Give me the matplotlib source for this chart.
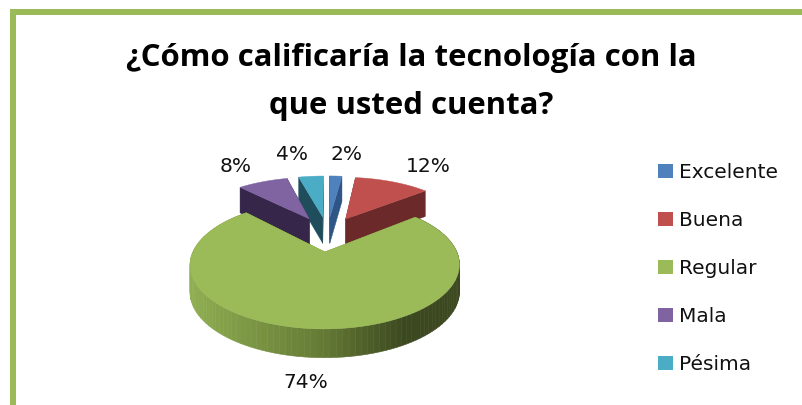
#!/usr/bin/env python3
# -*- coding: utf-8 -*-
import numpy as np
import matplotlib
matplotlib.use('Agg')
import matplotlib.pyplot as plt
from matplotlib.patches import Polygon, Rectangle, Patch
from matplotlib.colors import to_rgb

categories = ['Excelente', 'Buena', 'Regular', 'Mala', 'Pésima']
values = [2, 12, 74, 8, 4]
top_colors = ['#4F81BD', '#C0504D', '#9BBB59', '#8064A2', '#4BACC6']
wall_colors = ['#2F5587', '#6B2A29', '#6F8A3C', '#35264A', '#1F4D5C']
label_pos = [(346, 155), (428, 166), (306, 382), (236, 166), (292, 155)]

W, H = 802, 405
CX, CY = 327.5, 252     # punta de la rebanada verde
RX, RY = 132, 61.6
PERSP = 0.2             # perspectiva
EXPLODE = 0.32

fig = plt.figure(figsize=(W / 100, H / 100), dpi=100, facecolor='white')
ax = fig.add_axes([0, 0, 1, 1])
ax.set_xlim(0, W); ax.set_ylim(H, 0); ax.axis('off')

# marco verde
ax.add_patch(Rectangle((10, 9), W - 10, 6, fc='#9BBB59', ec='none'))
ax.add_patch(Rectangle((10, 9), 6, H - 9, fc='#9BBB59', ec='none'))

def project(u, v, low=False):
    s = 1 / (1 + PERSP * v)
    y = CY - RY * v * s
    if low:
        y = y + 20 + 7 * s
    return np.column_stack([CX + RX * u * s, y])

def ang_xy(a):
    return np.sin(np.radians(a)), np.cos(np.radians(a))

pct = np.array(values) / sum(values)
starts = np.concatenate([[0], np.cumsum(pct)[:-1]]) * 360
ends = np.cumsum(pct) * 360
# la verde va al final porque tapa a las demas
order = [4, 3, 0, 1, 2]
for i in order:
    a0, a1 = starts[i], ends[i]
    mid = (a0 + a1) / 2
    mx, my = ang_xy(mid)
    u0 = EXPLODE * mx
    v0 = EXPLODE * my + EXPLODE
    th = np.linspace(a0, a1, 120)
    eu, ev = ang_xy(th)
    eu = u0 + eu; ev = v0 + ev
    # paredes radiales
    for k in (0, -1):
        us = np.array([u0, eu[k]]); vs = np.array([v0, ev[k]])
        pts = np.vstack([project(us, vs), project(us, vs, True)[::-1]])
        ax.add_patch(Polygon(pts, fc=wall_colors[i], ec=wall_colors[i], lw=0.3))
    # borde exterior
    if i == 2:
        top = project(eu, ev); low = project(eu, ev, True)
        c_left = np.array(to_rgb('#8FAE52')); c_mid = np.array(to_rgb('#647A34')); c_right = np.array(to_rgb('#3C4820'))
        for j in range(len(th) - 1):
            quad = np.vstack([top[j:j + 2], low[j:j + 2][::-1]])
            f = (top[j, 0] - 192) / 269
            if f < 0.5:
                col = c_left + (c_mid - c_left) * f / 0.5
            else:
                col = c_mid + (c_right - c_mid) * min((f - 0.5) / 0.3, 1)
            ax.add_patch(Polygon(quad, fc=col, ec=col, lw=0.4))
    # cara superior
    face = np.vstack([project(np.array([u0]), np.array([v0])), project(eu, ev)])
    ax.add_patch(Polygon(face, fc=top_colors[i], ec=top_colors[i], lw=0.3))

title_font = ['Open Sans', 'DejaVu Sans']
ax.text(411, 58, '¿Cómo calificaría la tecnología con la', ha='center', va='center',
        fontsize=22.4, fontweight='bold', family=title_font, color='black')
ax.text(411, 106, 'que usted cuenta?', ha='center', va='center',
        fontsize=22.4, fontweight='bold', family=title_font, color='black')

for v, (x, y) in zip(values, label_pos):
    ax.text(x, y, f'{v}%', ha='center', va='center', fontsize=14.5, color='#111111')

handles = [Patch(fc=c, ec='none', label=n) for c, n in zip(top_colors, categories)]
ax.legend(handles=handles, loc='upper left', bbox_to_anchor=(652 / W, 1 - 157 / H), frameon=False,
          fontsize=14.5, handlelength=0.75, handleheight=0.75, handletextpad=0.3,
          labelspacing=1.44, borderpad=0.3, borderaxespad=0, labelcolor='#111111')

fig.savefig('out.png', dpi=100)
